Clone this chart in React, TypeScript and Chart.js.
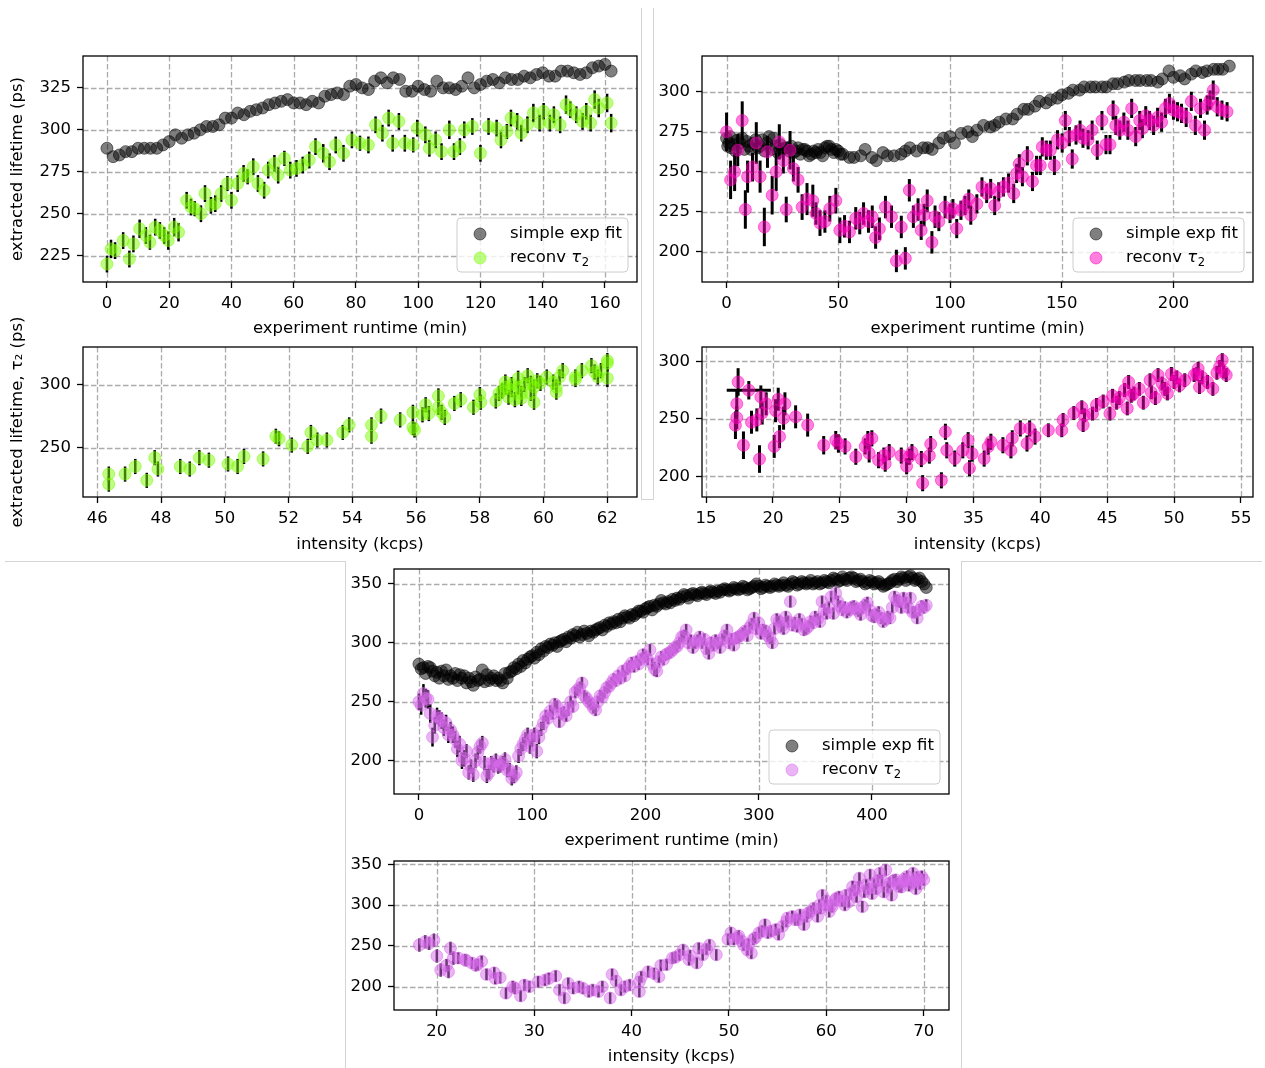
import React, { useEffect, useRef } from 'react';
import { Chart, registerables } from 'chart.js';

Chart.register(...registerables);

const FONT_FAMILY = '"DejaVu Sans", "Liberation Sans", sans-serif';
const FONT_SIZE = 16.5;
const PAD_T = 45;
const PAD_R = 20;

const GRAY = 'rgba(0,0,0,0.5)';
const GREEN = 'rgba(124,252,0,0.5)';
const PINK = 'rgba(255,0,190,0.5)';
const VIOLET = 'rgba(215,105,235,0.5)';
const GRID_COLOR = 'rgba(150,150,150,0.8)';

const LABEL_SIMPLE = 'simple exp fit';
const LABEL_RECONV = 'reconv τ₂';
const TITLE_RUNTIME = 'experiment runtime (min)';
const TITLE_INTENSITY = 'intensity (kcps)';
const TITLE_LIFETIME = 'extracted lifetime (ps)';
const TITLE_LIFETIME_T2 = 'extracted lifetime, τ₂ (ps)';

// ---------------- Panel 1 (green) ----------------
const p1RuntimeTicks = [0, 20, 40, 60, 80, 100, 120, 140, 160];
const p1LifetimeTicks = [225, 250, 275, 300, 325];
const p1IntensityTicks = [46, 48, 50, 52, 54, 56, 58, 60, 62];
const p1IntLifetimeTicks = [250, 300];

const p1SimpleX = [0, 2, 4, 6, 8, 10, 12, 14, 16, 18, 20, 22, 24, 26, 28, 30, 32, 34, 36, 38, 40, 42, 44, 46, 48, 50, 52, 54, 56, 58, 60, 62, 64, 66, 68, 70, 72, 74, 76, 78, 80, 82, 84, 86, 88, 90, 92, 94, 96, 98, 100, 102, 104, 106, 108, 110, 112, 114, 116, 118, 120, 122, 124, 126, 128, 130, 132, 134, 136, 138, 140, 142, 144, 146, 148, 150, 152, 154, 156, 158, 160, 162];
const p1SimpleY = [289, 284, 285, 287, 287, 289, 289, 289, 289, 291, 293, 297, 295, 297, 298, 300, 302, 302, 303, 307, 307, 310, 309, 311, 312, 313, 315, 316, 317, 318, 316, 316, 315, 317, 316, 320, 321, 322, 321, 326, 327, 325, 324, 329, 331, 328, 331, 330, 323, 323, 326, 324, 323, 329, 325, 325, 324, 326, 331, 325, 327, 329, 330, 328, 331, 330, 330, 332, 331, 333, 334, 332, 332, 335, 335, 334, 333, 334, 337, 338, 339, 335];

const p1ReconvX = [0, 1.3, 2.6, 5.2, 7.2, 8.5, 10.5, 12.5, 13.8, 15.5, 17, 18.4, 19.7, 21.6, 23, 25.6, 27, 28.2, 30.2, 31.5, 33.4, 34.8, 36.7, 38.7, 40, 42, 43.9, 45.2, 47, 48.5, 50.5, 51.8, 53.8, 55, 57, 58.9, 60.9, 62.9, 65, 67, 69.5, 71.5, 73.5, 76, 78.7, 81.3, 84, 86.3, 88.5, 90.5, 91.8, 93.8, 95.7, 98.4, 99.7, 102.3, 103.6, 105.6, 107.5, 110, 111.5, 113.4, 114.8, 117.4, 120, 122.6, 125.2, 126.6, 128.5, 129.8, 131.8, 133.1, 135.1, 137, 139, 140.3, 142.3, 143.6, 145.6, 147.5, 148.9, 150.8, 152.8, 154, 155.4, 156.7, 158, 160.7, 162];
const p1ReconvY = [220, 229, 228, 234, 223, 232, 241, 237, 233, 242, 240, 237, 234, 242, 239, 258, 254, 253, 250, 262, 255, 256, 262, 268, 258, 268, 274, 272, 278, 268, 264, 276, 280, 273, 283, 276, 277, 279, 282, 290, 286, 281, 291, 286, 294, 292, 291, 303, 298, 307, 292, 305, 292, 291, 301, 297, 289, 294, 287, 300, 287, 290, 300, 302, 286, 302, 301, 294, 299, 307, 305, 298, 303, 310, 304, 311, 304, 309, 303, 315, 312, 309, 305, 311, 304, 318, 313, 316, 304];
const p1ReconvErr = [5, 5.5, 5, 5, 5, 5, 5.5, 5, 4.5, 5, 5, 5, 5.5, 5.5, 5.5, 5, 5, 4.5, 5, 5, 5, 5, 5, 4.5, 5, 5, 5, 4.5, 5, 5, 5, 5, 5, 5, 4.5, 5, 5, 5, 5, 5, 5.5, 5, 5, 5, 5, 4.5, 5, 5, 5, 5, 5, 5, 5, 4.5, 5, 5, 5, 5, 5, 5.5, 5, 5, 5, 5, 5, 5, 5, 5, 4.5, 5, 5, 5, 5, 5.5, 5, 5, 5, 5, 5, 5.5, 5, 5, 5, 5, 5, 5.5, 5.5, 5.5, 5.5];

const p1IntX = [46.36, 46.36, 46.87, 47.19, 47.55, 47.8, 47.9, 48.6, 48.9, 49.2, 49.5, 50.1, 50.4, 50.6, 51.2, 51.6, 51.7, 52.1, 52.6, 52.7, 52.9, 53.2, 53.7, 53.9, 54.6, 54.6, 54.9, 55.5, 55.9, 55.9, 55.95, 56.2, 56.3, 56.4, 56.7, 56.7, 56.8, 56.9, 57.2, 57.4, 57.8, 58.0, 58.03, 58.5, 58.6, 58.8, 58.8, 58.9, 59.0, 59.1, 59.2, 59.2, 59.3, 59.4, 59.5, 59.6, 59.6, 59.7, 59.8, 60.1, 60.3, 60.4, 60.4, 60.5, 60.6, 61.0, 61.0, 61.2, 61.5, 61.6, 61.7, 61.8, 62.0, 62.0, 62.0, 59.0, 59.3, 59.7, 59.9, 58.7];
const p1IntY = [229, 221, 229, 235, 224, 242, 233, 235, 233, 242, 240, 237, 235, 243, 241, 259, 257, 252, 251, 262, 256, 256, 262, 268, 268, 259, 275, 272, 278, 266, 264, 276, 284, 277, 291, 282, 278, 274, 285, 288, 282, 292, 286, 287, 293, 298, 302, 290, 296, 288, 298, 305, 293, 300, 307, 301, 293, 286, 303, 306, 302, 294, 298, 306, 311, 306, 304, 311, 315, 310, 306, 311, 319, 317, 305, 300, 289, 298, 301, 295];
const p1IntErr = [6, 6, 6, 6, 6, 6, 6, 6, 6, 6, 6, 6, 6, 6, 6, 6, 6, 6, 6, 6, 6, 6, 6, 6, 6, 6, 6, 6, 6, 6, 6, 6, 6, 6, 6, 6, 6, 6, 6, 6, 6, 6, 6, 6, 6, 6, 6, 6, 6, 6, 6, 6, 6, 6, 6, 6, 6, 6, 6, 6, 6, 6, 6, 6, 6, 6, 6, 6, 6, 6, 6, 6, 6, 6, 7, 6, 6, 6, 6, 6];

// ---------------- Panel 2 (magenta) ----------------
const p2RuntimeTicks = [0, 50, 100, 150, 200];
const p2LifetimeTicks = [200, 225, 250, 275, 300];
const p2IntensityTicks = [15, 20, 25, 30, 35, 40, 45, 50, 55];
const p2IntLifetimeTicks = [200, 250, 300];

const p2SimpleX = [0, 1, 2, 3, 5, 6, 8, 10, 12, 14, 16, 17, 19, 20, 22, 25, 27, 30, 32, 35, 38, 40, 42, 45, 47, 50, 52, 55, 57, 60, 62, 65, 67, 70, 72, 75, 78, 80, 82, 85, 88, 90, 92, 95, 97, 100, 102, 105, 108, 110, 112, 115, 118, 120, 122, 125, 128, 130, 133, 135, 138, 140, 143, 145, 148, 150, 153, 155, 158, 160, 163, 165, 168, 170, 173, 175, 178, 180, 183, 185, 188, 190, 193, 195, 198, 200, 203, 205, 208, 210, 213, 215, 218, 220, 222, 225];
const p2SimpleY = [271, 268, 265, 267, 270, 268, 264, 266, 268, 265, 270, 263, 272, 264, 266, 264, 265, 262, 265, 264, 261, 262, 262, 266, 264, 263, 261, 259, 259, 260, 264, 259, 257, 262, 260, 260, 261, 263, 265, 263, 265, 265, 264, 268, 271, 272, 268, 274, 275, 272, 276, 279, 278, 279, 281, 283, 283, 286, 289, 289, 291, 294, 293, 295, 296, 298, 299, 301, 301, 303, 303, 303, 303, 303, 305, 305, 306, 307, 307, 307, 307, 307, 306, 308, 313, 309, 310, 308, 311, 313, 312, 313, 314, 314, 314, 316];
const p2SimpleX2 = [0.5, 1.5, 4, 7, 9, 11, 13, 15, 18, 21, 23, 24, 26, 28, 29, 31, 33, 34, 36, 37, 39, 41, 43, 44, 46, 48, 49, 51];
const p2SimpleY2 = [266, 272, 263, 271, 269, 264, 270, 266, 268, 271, 262, 267, 265, 263, 266, 263, 261, 264, 263, 260, 263, 264, 260, 265, 266, 262, 264, 261];

const p2ReconvX = [0, 1.8, 3.6, 5, 7, 8.4, 9.4, 11.6, 13.3, 15, 16.9, 18.3, 20.4, 22.2, 23.6, 25.4, 26.7, 28.4, 29.9, 32, 33.8, 36, 38.6, 40, 41.8, 44, 46.2, 48.9, 50.7, 52.8, 55, 57.8, 59.6, 61.3, 63.5, 65.2, 66.7, 68.4, 71.1, 73.8, 76, 78.2, 80, 81.8, 83.6, 85.7, 87.1, 88.4, 89.8, 91.9, 93.3, 95, 97.8, 100, 101.3, 103, 104.9, 106.7, 108.4, 109.3, 112, 114.3, 116.4, 118.2, 120, 121.8, 123.9, 126.2, 128.5, 129.8, 131, 132.4, 134.6, 136.9, 138.7, 140.4, 141.3, 143.1, 144.9, 146.7, 148.1, 150.2, 151.6, 153.4, 154.7, 156.4, 158.2, 159.5, 161.8, 163.6, 165.9, 168, 169.8, 171.6, 173, 174.2, 176, 177.8, 179.6, 181.3, 183.1, 184.9, 186.1, 187.6, 189.3, 191.1, 192.9, 194.7, 196.4, 198.2, 200, 201.8, 203.6, 205.7, 208, 209.8, 212.1, 213.9, 215.1, 216.4, 217.8, 219.6, 221.7, 224];
const p2ReconvY = [275, 245, 250, 263.5, 282, 226.5, 247, 253, 268, 247, 215.6, 262.5, 235.4, 250, 268.7, 257, 226.5, 263.5, 252, 245, 228, 233, 232, 224, 218, 219, 227, 232, 213.5, 216, 212.5, 221, 218, 224, 219, 222, 209, 214.5, 228, 222, 194.4, 215.6, 196, 238.5, 222, 226.5, 213.5, 223, 232, 206, 222, 219, 228, 224, 227, 214.6, 226, 229, 233, 223, 230, 240.6, 236.5, 239.6, 229, 237.5, 240.6, 243, 236.5, 249, 255, 247, 260, 244, 254, 254, 265.6, 263.5, 263.5, 254, 270, 268, 282, 272, 258, 273, 276, 271, 270, 276, 263.5, 282, 267, 267, 288.5, 279, 276, 281, 276, 289.6, 272, 282, 277, 285, 282, 279, 284, 281, 289.6, 292.7, 288.5, 287.5, 286.5, 284, 294, 279, 289.6, 276, 291.7, 294.8, 301, 290.6, 288.5, 287.5];
const p2ReconvErr = [12, 12, 12, 10, 12, 12, 10, 9, 13, 10, 12, 10, 12, 12, 11, 8, 8, 12, 8, 8, 8, 10, 10, 7, 8, 7, 8, 8, 8, 7, 7, 7, 7, 7, 7, 7, 7, 7, 7, 7, 7, 7, 7, 7, 7, 7, 6, 7, 7, 7, 7, 6, 7, 6, 6, 6, 6, 6, 6, 6, 6, 6, 6, 6, 6, 6, 6, 6, 6, 6, 6, 6, 6, 6, 6, 6, 6, 6, 6, 6, 6, 6, 6, 6, 6, 6, 6, 6, 6, 6, 6, 6, 6, 6, 6, 6, 6, 6, 6, 6, 6, 6, 6, 6, 6, 6, 6, 6, 6, 6, 6, 6, 6, 6, 6, 6, 6, 6, 6, 6, 6, 6, 6, 6];

const p2IntX = [17.2, 17.3, 17.3, 17.4, 17.8, 18.2, 18.4, 18.8, 19.0, 19.1, 19.2, 19.5, 20.1, 20.2, 20.4, 20.5, 20.8, 20.9, 21.7, 22.6, 23.8, 24.7, 24.9, 25.4, 26.2, 26.9, 27.1, 27.2, 27.4, 27.9, 28.3, 28.4, 28.7, 29.6, 30.0, 30.2, 30.4, 31.1, 31.2, 31.7, 31.8, 32.6, 32.9, 33.0, 33.6, 34.2, 34.6, 34.7, 34.9, 35.8, 36.1, 36.3, 37.2, 37.8, 37.9, 38.5, 39.0, 39.2, 39.6, 40.6, 41.6, 41.7, 42.5, 43.1, 43.2, 43.3, 43.9, 44.7, 45.2, 45.4, 45.7, 46.3, 46.5, 46.6, 46.8, 47.4, 47.7, 48.2, 48.3, 48.6, 48.8, 49.1, 49.5, 49.8, 50.0, 50.4, 50.8, 51.7, 51.8, 51.9, 52.1, 52.9, 53.4, 53.6, 53.7, 53.9, 47.0, 49.3, 50.2, 51.5, 52.5, 53.2, 45.9, 44.2];
const p2IntY = [244.4, 251, 263, 282, 227, 274.8, 247, 249, 215, 269, 255, 263, 226, 257, 267, 234.5, 250.5, 263, 251.7, 244.5, 227, 231.4, 228.5, 226, 217, 226, 231.4, 220, 233, 214, 218, 211, 221, 218, 208.7, 217, 221, 215, 194, 218, 228, 196.5, 238.7, 222.6, 215.4, 222.6, 231.4, 207, 219.7, 215.4, 225.7, 230, 227, 222.6, 233, 241.6, 228.5, 241.6, 234.5, 240, 240, 249, 255, 260, 244.5, 253, 254.5, 265, 254.5, 270, 264, 275, 259, 282, 270, 276, 264, 283.5, 273, 268, 288, 280.6, 272, 289, 282, 279, 283.5, 289, 293.6, 277.6, 286, 276, 295, 301, 291, 288, 272, 276, 286, 288, 282, 290, 268, 262];
const p2IntErr = [12, 10, 12, 12, 12, 8, 10, 10, 12, 10, 10, 10, 10, 10, 10, 10, 10, 10, 10, 10, 8, 8, 8, 7, 7, 7, 8, 8, 7, 7, 7, 7, 7, 7, 7, 7, 7, 7, 7, 7, 7, 7, 7, 7, 7, 7, 7, 7, 7, 7, 7, 7, 7, 7, 7, 7, 7, 7, 7, 6, 6, 6, 6, 6, 6, 6, 6, 6, 6, 6, 6, 6, 6, 6, 6, 6, 6, 6, 6, 6, 6, 6, 6, 6, 6, 6, 6, 6, 6, 6, 6, 6, 6, 6, 6, 6, 6, 6, 6, 6, 6, 6, 6, 6];
const p2IntXErr: Record<number, number> = { 5: 1.65 };

// ---------------- Panel 3 (violet) ----------------
const p3RuntimeTicks = [0, 100, 200, 300, 400];
const p3LifetimeTicks = [200, 250, 300, 350];
const p3IntensityTicks = [20, 30, 40, 50, 60, 70];
const p3IntLifetimeTicks = [200, 250, 300, 350];

const p3RuntimeX = [0, 4, 8, 12, 16, 20, 24, 28, 32, 36, 40, 44, 48, 52, 56, 60, 64, 68, 72, 76, 80, 84, 88, 92, 96, 100, 104, 108, 112, 116, 120, 124, 128, 132, 136, 140, 144, 148, 152, 156, 160, 164, 168, 172, 176, 180, 184, 188, 192, 196, 200, 204, 208, 212, 216, 220, 224, 228, 232, 236, 240, 244, 248, 252, 256, 260, 264, 268, 272, 276, 280, 284, 288, 292, 296, 300, 304, 308, 312, 316, 320, 324, 328, 332, 336, 340, 344, 348, 352, 356, 360, 364, 368, 372, 376, 380, 384, 388, 392, 396, 400, 404, 408, 412, 416, 420, 424, 428, 432, 436, 440, 444, 448];
const p3SimpleY = [282, 279, 280, 276, 275, 276, 277, 272, 274, 273, 272, 270, 264, 268, 277, 273, 270, 268, 268, 274, 275, 279, 282, 285, 286, 289, 292, 295, 297, 299, 300, 301, 303, 305, 307, 309, 307, 308, 310, 311, 313, 315, 317, 318, 320, 321, 322, 324, 325, 327, 329, 331, 332, 333, 334, 335, 337, 338, 339, 340, 341, 341, 342, 342, 343, 343, 344, 345, 345, 345, 346, 346, 347, 346, 348, 348, 347, 348, 348, 349, 349, 349, 350, 351, 350, 351, 351, 350, 352, 351, 352, 353, 354, 353, 354, 355, 355, 353, 352, 351, 352, 351, 350, 349, 351, 354, 354, 355, 356, 355, 354, 352, 347];
const p3ReconvY = [250, 257, 252, 220, 238, 234, 232, 226, 218, 214, 202, 190, 188, 207, 215, 187, 198, 200, 196, 201, 192, 187, 204, 214, 222, 218, 208, 227, 238, 242, 248, 233, 241, 244, 246, 260, 266, 253, 248, 243, 255, 258, 263, 269, 272, 276, 278, 283, 284, 286, 288, 294, 278, 284, 286, 291, 294, 297, 305, 311, 302, 300, 305, 303, 291, 298, 300, 303, 311, 303, 304, 306, 310, 313, 321, 317, 311, 306, 300, 320, 314, 322, 335, 317, 320, 311, 314, 317, 320, 335, 325, 339, 342, 331, 330, 328, 331, 327, 330, 334, 323, 324, 321, 320, 321, 339, 335, 338, 330, 326, 321, 331, 332];
const p3ReconvErr = [7, 8, 8, 8, 7, 7, 7, 7, 7, 7, 7, 6, 6, 6, 6, 6, 6, 6, 6, 6, 6, 6, 6, 6, 6, 6, 6, 6, 5, 5, 5, 5, 5, 6, 5, 5, 5, 5, 5, 5, 5, 5, 5, 5, 5, 5, 5, 5, 5, 5, 5, 5, 6, 5, 5, 5, 5, 5, 5, 5, 5, 5, 5, 5, 5, 5, 5, 5, 5, 5, 5, 5, 5, 5, 5, 5, 5, 5, 5, 5, 5, 5, 5, 5, 5, 5, 5, 5, 5, 5, 5, 5, 5, 5, 5, 5, 5, 5, 5, 5, 5, 5, 5, 5, 5, 5, 5, 5, 5, 5, 5, 5, 5];

const p3RuntimeX2 = [2, 6, 10, 14, 18, 22, 26, 30, 34, 38, 42, 46, 50, 54, 58, 62, 66, 70, 74, 78, 82, 86, 90, 94, 98, 102, 106, 110, 114, 118, 122, 126, 130, 134, 138, 142, 146, 150, 154, 158, 162, 166, 170, 174, 178, 182, 186, 190, 194, 198, 202, 206, 210, 214, 218, 222, 226, 230, 234, 238, 242, 246, 250, 254, 258, 262, 266, 270, 274, 278, 282, 286, 290, 294, 298, 302, 306, 310, 314, 318, 322, 326, 330, 334, 338, 342, 346, 350, 354, 358, 362, 366, 370, 374, 378, 382, 386, 390, 394, 398, 402, 406, 410, 414, 418, 422, 426, 430, 434, 438, 442, 446];
const p3SimpleY2 = [278, 274, 279, 272, 270, 272, 269, 270, 268, 270, 266, 267, 271, 269, 267, 268, 272, 270, 266, 270, 276, 278, 280, 283, 288, 287, 290, 293, 296, 298, 297, 302, 301, 304, 306, 305, 310, 306, 309, 312, 311, 314, 316, 317, 318, 323, 321, 323, 327, 326, 330, 328, 331, 336, 333, 334, 336, 337, 341, 338, 342, 340, 343, 341, 344, 342, 343, 346, 344, 347, 345, 348, 345, 347, 350, 346, 349, 347, 350, 348, 351, 348, 352, 349, 352, 350, 353, 351, 350, 353, 351, 355, 352, 356, 353, 356, 352, 354, 350, 353, 350, 352, 348, 350, 353, 352, 356, 353, 357, 353, 355, 350];
const p3ReconvY2 = [247, 253, 240, 230, 236, 228, 222, 222, 210, 200, 208, 195, 200, 212, 198, 190, 196, 195, 198, 192, 185, 190, 210, 218, 212, 222, 220, 232, 236, 240, 246, 240, 238, 250, 258, 262, 255, 250, 245, 250, 254, 262, 266, 268, 270, 272, 280, 280, 282, 290, 286, 282, 276, 288, 290, 292, 296, 300, 306, 300, 296, 302, 300, 295, 300, 302, 296, 306, 300, 298, 305, 308, 306, 316, 312, 308, 310, 304, 312, 318, 312, 318, 315, 314, 316, 312, 318, 322, 318, 328, 330, 325, 335, 328, 326, 330, 329, 324, 332, 328, 322, 326, 318, 322, 330, 336, 330, 334, 338, 326, 328, 330];
const p3ReconvErr2 = [8, 8, 8, 7, 7, 7, 7, 7, 7, 7, 6, 6, 6, 6, 6, 6, 6, 6, 6, 6, 6, 6, 6, 6, 6, 6, 6, 6, 5, 5, 5, 5, 5, 5, 5, 5, 5, 5, 5, 5, 5, 5, 5, 5, 5, 5, 5, 5, 5, 5, 5, 5, 5, 5, 5, 5, 5, 5, 5, 5, 5, 5, 5, 5, 5, 5, 5, 5, 5, 5, 5, 5, 5, 5, 5, 5, 5, 5, 5, 5, 5, 5, 5, 5, 5, 5, 5, 5, 5, 5, 5, 5, 5, 5, 5, 5, 5, 5, 5, 5, 5, 5, 5, 5, 5, 5, 5, 5, 5, 5, 5, 5];

const p3IntX = [18.2, 18.8, 19.7, 20.0, 20.4, 21.2, 21.4, 21.7, 22.2, 22.9, 23.6, 24.2, 24.6, 25.1, 25.9, 26.5, 27.1, 27.8, 28.6, 29.5, 30.4, 31.1, 32.2, 32.6, 33.1, 34.0, 34.6, 35.6, 36.6, 37.8, 38.0, 38.4, 38.9, 39.8, 40.8, 40.8, 41.7, 42.3, 42.8, 43.6, 44.2, 44.9, 45.3, 45.9, 46.7, 46.9, 47.3, 48.0, 48.7, 49.9, 50.2, 50.9, 51.5, 51.9, 52.3, 52.7, 53.1, 53.7, 54.3, 55.1, 55.9, 56.5, 57.1, 57.7, 58.1, 58.7, 59.1, 59.6, 59.9, 60.3, 60.9, 61.3, 61.9, 62.3, 62.7, 63.1, 63.4, 63.7, 64.1, 64.5, 64.7, 65.1, 65.5, 65.9, 66.1, 66.5, 66.7, 67.1, 67.5, 67.9, 68.3, 68.7, 68.9, 69.2, 69.5, 69.8, 56.0, 57.3, 58.4, 59.3, 60.0, 60.6, 61.6, 62.0, 62.9, 63.9, 64.9, 65.7, 66.3, 67.3, 68.0, 68.5, 69.0, 69.6, 70.0, 52.0, 51.0, 53.4, 54.8];
const p3IntY = [251, 255, 257, 237.6, 220.4, 218.4, 247, 235, 235, 233, 229, 227, 231, 215, 217, 211, 192, 200, 188.6, 200, 206, 208, 213, 196, 186, 198, 200, 194, 194, 186, 215, 207, 196, 202, 194, 206, 218.4, 216, 212, 227, 235, 239, 245, 233, 229, 247, 239, 251, 239, 258, 266, 260, 251, 245, 241, 260, 266, 276, 268, 264, 280, 286, 282, 276, 290, 296, 286, 312, 300, 292, 306, 310, 300, 304, 322.6, 310, 333, 298, 325, 337, 314, 320, 339, 316, 343, 327, 312, 331, 322.6, 329, 335, 327, 339, 320, 331, 335, 284, 288, 292, 300, 305, 298, 305, 312, 318, 316, 326, 330, 322, 326, 332, 324, 329, 326, 331, 252, 262, 268, 270];
const p3IntErr = [8, 8, 8, 8, 8, 8, 8, 8, 7, 7, 7, 7, 7, 7, 7, 7, 7, 7, 7, 7, 7, 7, 7, 7, 7, 7, 7, 7, 7, 7, 7, 7, 7, 7, 7, 7, 7, 7, 7, 7, 7, 7, 7, 7, 7, 7, 7, 7, 7, 7, 7, 7, 7, 7, 7, 7, 7, 7, 7, 7, 7, 7, 7, 7, 7, 7, 7, 7, 7, 7, 7, 7, 7, 7, 7, 7, 7, 7, 7, 7, 7, 7, 7, 7, 7, 7, 7, 7, 7, 7, 7, 7, 7, 7, 7, 7, 7, 7, 7, 7, 7, 7, 7, 7, 7, 7, 7, 7, 7, 7, 7, 7, 7, 7, 7, 7, 7, 7, 7];
const p3IntX2 = [19.2, 21.0, 23.0, 24.0, 26.0, 28.0, 29.0, 31.5, 33.5, 35.0, 36.0, 37.0, 39.3, 41.0, 43.0, 44.5, 46.0, 47.7, 50.5, 51.3, 52.5, 54.0, 55.5, 56.8, 58.0, 59.4, 60.5, 61.0, 62.5, 63.3, 64.3, 65.3, 66.9, 67.7, 68.2, 69.3];
const p3IntY2 = [253, 226, 232, 226, 210, 198, 202, 210, 204, 198, 196, 200, 200, 212, 226, 236, 238, 246, 258, 256, 258, 266, 274, 282, 286, 296, 300, 308, 314, 322, 320, 330, 330, 322, 330, 334];
const p3IntErr2 = [8, 8, 7, 7, 7, 7, 7, 7, 7, 7, 7, 7, 7, 7, 7, 7, 7, 7, 7, 7, 7, 7, 7, 7, 7, 7, 7, 7, 7, 7, 7, 7, 7, 7, 7, 7];

// ---------------- layout / rendering ----------------
type Box = { l: number; t: number; r: number; b: number };
type Series = {
  label: string;
  x: number[];
  y: number[];
  color: string;
  order: number;
  err?: number[];
  errX?: Record<number, number>;
};
type Panel = {
  id: string;
  box: Box;
  xRange: [number, number];
  yRange: [number, number];
  xTicks: number[];
  yTicks: number[];
  xTitle: string;
  xTitleY: number;
  yTitle?: string;
  yAxisW: number;
  series: Series[];
  legend: boolean;
  errWidth: number;
};

const PANELS: Panel[] = [
  {
    id: 'p1main',
    box: { l: 83, t: 56, r: 637, b: 282 },
    xRange: [-7.7, 170.3],
    yRange: [209.3, 344],
    xTicks: p1RuntimeTicks,
    yTicks: p1LifetimeTicks,
    xTitle: TITLE_RUNTIME,
    xTitleY: 327,
    yTitle: TITLE_LIFETIME,
    yAxisW: 75,
    legend: true,
    errWidth: 2.5,
    series: [
      { label: LABEL_SIMPLE, x: p1SimpleX, y: p1SimpleY, color: GRAY, order: 2 },
      { label: LABEL_RECONV, x: p1ReconvX, y: p1ReconvY, color: GREEN, order: 1, err: p1ReconvErr },
    ],
  },
  {
    id: 'p1int',
    box: { l: 83, t: 347, r: 637, b: 497 },
    xRange: [45.55, 62.93],
    yRange: [210.8, 329.8],
    xTicks: p1IntensityTicks,
    yTicks: p1IntLifetimeTicks,
    xTitle: TITLE_INTENSITY,
    xTitleY: 543,
    yTitle: TITLE_LIFETIME_T2,
    yAxisW: 75,
    legend: false,
    errWidth: 2.5,
    series: [{ label: LABEL_RECONV, x: p1IntX, y: p1IntY, color: GREEN, order: 1, err: p1IntErr }],
  },
  {
    id: 'p2main',
    box: { l: 702, t: 56, r: 1253, b: 282 },
    xRange: [-11, 235.6],
    yRange: [181.25, 322.3],
    xTicks: p2RuntimeTicks,
    yTicks: p2LifetimeTicks,
    xTitle: TITLE_RUNTIME,
    xTitleY: 327,
    yAxisW: 60,
    legend: true,
    errWidth: 3,
    series: [
      { label: LABEL_SIMPLE, x: [...p2SimpleX, ...p2SimpleX2], y: [...p2SimpleY, ...p2SimpleY2], color: GRAY, order: 2 },
      { label: LABEL_RECONV, x: p2ReconvX, y: p2ReconvY, color: PINK, order: 1, err: p2ReconvErr },
    ],
  },
  {
    id: 'p2int',
    box: { l: 702, t: 347, r: 1253, b: 497 },
    xRange: [14.7, 55.9],
    yRange: [182, 312.4],
    xTicks: p2IntensityTicks,
    yTicks: p2IntLifetimeTicks,
    xTitle: TITLE_INTENSITY,
    xTitleY: 543,
    yAxisW: 60,
    legend: false,
    errWidth: 3,
    series: [{ label: LABEL_RECONV, x: p2IntX, y: p2IntY, color: PINK, order: 1, err: p2IntErr, errX: p2IntXErr }],
  },
  {
    id: 'p3main',
    box: { l: 394, t: 569, r: 949, b: 794 },
    xRange: [-22, 468.1],
    yRange: [171.7, 362.7],
    xTicks: p3RuntimeTicks,
    yTicks: p3LifetimeTicks,
    xTitle: TITLE_RUNTIME,
    xTitleY: 839,
    yAxisW: 60,
    legend: true,
    errWidth: 2.5,
    series: [
      { label: LABEL_SIMPLE, x: [...p3RuntimeX, ...p3RuntimeX2], y: [...p3SimpleY, ...p3SimpleY2], color: GRAY, order: 2 },
      {
        label: LABEL_RECONV,
        x: [...p3RuntimeX, ...p3RuntimeX2],
        y: [...p3ReconvY, ...p3ReconvY2],
        color: VIOLET,
        order: 1,
        err: [...p3ReconvErr, ...p3ReconvErr2],
      },
    ],
  },
  {
    id: 'p3int',
    box: { l: 394, t: 861, r: 949, b: 1010 },
    xRange: [15.6, 72.6],
    yRange: [171.4, 354],
    xTicks: p3IntensityTicks,
    yTicks: p3IntLifetimeTicks,
    xTitle: TITLE_INTENSITY,
    xTitleY: 1055,
    yAxisW: 60,
    legend: false,
    errWidth: 2.5,
    series: [
      {
        label: LABEL_RECONV,
        x: [...p3IntX, ...p3IntX2],
        y: [...p3IntY, ...p3IntY2],
        color: VIOLET,
        order: 1,
        err: [...p3IntErr, ...p3IntErr2],
      },
    ],
  },
];

function geometry(p: Panel) {
  const cl = p.box.l - p.yAxisW;
  const ct = p.box.t - PAD_T;
  const cw = p.box.r - cl + PAD_R;
  const xAxisH = Math.round(p.xTitleY - p.box.b + FONT_SIZE * 0.6 + 2);
  const ch = PAD_T + (p.box.b - p.box.t) + xAxisH;
  return { cl, ct, cw, ch, xAxisH };
}

function drawLegendLabel(ctx: CanvasRenderingContext2D, text: string, x: number, y: number) {
  ctx.fillStyle = '#000';
  ctx.textBaseline = 'middle';
  ctx.textAlign = 'left';
  const base = `${FONT_SIZE}px ${FONT_FAMILY}`;
  const idx = text.indexOf('τ₂');
  if (idx < 0) {
    ctx.font = base;
    ctx.fillText(text, x, y);
    return;
  }
  const pre = text.slice(0, idx);
  ctx.font = base;
  ctx.fillText(pre, x, y);
  let cx = x + ctx.measureText(pre).width;
  ctx.font = `italic ${FONT_SIZE}px ${FONT_FAMILY}`;
  ctx.fillText('τ', cx, y);
  cx += ctx.measureText('τ').width + 0.5;
  ctx.font = `${FONT_SIZE * 0.7}px ${FONT_FAMILY}`;
  ctx.fillText('2', cx, y + 4.5);
}

function makeDecorPlugin(p: Panel) {
  return {
    id: 'decor_' + p.id,
    beforeDatasetsDraw(chart: any) {
      const { ctx, chartArea: a, scales } = chart;
      const xs = scales.x;
      const ys = scales.y;
      ctx.save();
      ctx.beginPath();
      ctx.rect(a.left, a.top, a.right - a.left, a.bottom - a.top);
      ctx.clip();
      ctx.strokeStyle = GRID_COLOR;
      ctx.lineWidth = 1.3;
      ctx.setLineDash([5.5, 2.5]);
      p.xTicks.forEach((v) => {
        const px = Math.round(xs.getPixelForValue(v)) + 0.5;
        ctx.beginPath();
        ctx.moveTo(px, a.top);
        ctx.lineTo(px, a.bottom);
        ctx.stroke();
      });
      p.yTicks.forEach((v) => {
        const py = Math.round(ys.getPixelForValue(v)) + 0.5;
        ctx.beginPath();
        ctx.moveTo(a.left, py);
        ctx.lineTo(a.right, py);
        ctx.stroke();
      });
      ctx.setLineDash([]);
      ctx.strokeStyle = '#000';
      ctx.lineWidth = p.errWidth;
      chart.data.datasets.forEach((ds: any) => {
        const err: number[] | undefined = ds.errY;
        const errX: Record<number, number> | undefined = ds.errX;
        if (!err && !errX) return;
        ds.data.forEach((pt: { x: number; y: number }, j: number) => {
          const px = xs.getPixelForValue(pt.x);
          const py = ys.getPixelForValue(pt.y);
          const e = err ? err[j] ?? 0 : 0;
          if (e > 0) {
            ctx.beginPath();
            ctx.moveTo(px, ys.getPixelForValue(pt.y - e));
            ctx.lineTo(px, ys.getPixelForValue(pt.y + e));
            ctx.stroke();
          }
          const ex = errX ? errX[j] : undefined;
          if (ex) {
            ctx.beginPath();
            ctx.moveTo(xs.getPixelForValue(pt.x - ex), py);
            ctx.lineTo(xs.getPixelForValue(pt.x + ex), py);
            ctx.stroke();
          }
        });
      });
      ctx.restore();
    },
    afterDatasetsDraw(chart: any) {
      const { ctx, chartArea: a } = chart;
      ctx.save();
      ctx.strokeStyle = '#000';
      ctx.lineWidth = 1.3;
      ctx.strokeRect(a.left, a.top, a.right - a.left, a.bottom - a.top);
      if (p.legend) {
        const w = 171;
        const h = 54;
        const x0 = a.right - 9 - w;
        const y0 = a.bottom - 10 - h;
        ctx.beginPath();
        (ctx as any).roundRect(x0, y0, w, h, 4);
        ctx.fillStyle = 'rgba(255,255,255,0.8)';
        ctx.fill();
        ctx.strokeStyle = '#cccccc';
        ctx.lineWidth = 1;
        ctx.stroke();
        const items = chart.data.datasets.slice().sort((d1: any, d2: any) => d2.order - d1.order);
        items.forEach((ds: any, i: number) => {
          const cy = y0 + 16 + 24 * i;
          ctx.beginPath();
          ctx.arc(x0 + 23, cy, 6, 0, Math.PI * 2);
          ctx.fillStyle = ds.backgroundColor;
          ctx.fill();
          ctx.strokeStyle = ds.borderColor;
          ctx.lineWidth = 1;
          ctx.stroke();
          drawLegendLabel(ctx, ds.label, x0 + 53, cy);
        });
      }
      ctx.restore();
    },
  };
}

function makeConfig(p: Panel, g: ReturnType<typeof geometry>): any {
  const font = { family: FONT_FAMILY, size: FONT_SIZE, lineHeight: 1.2 };
  const datasets = p.series.map((s) => ({
    label: s.label,
    data: s.x.map((xv, i) => ({ x: xv, y: s.y[i] })),
    backgroundColor: s.color,
    borderColor: s.color,
    pointRadius: 6,
    pointHoverRadius: 6,
    pointBorderWidth: 1,
    showLine: false,
    order: s.order,
    errY: s.err,
    errX: s.errX,
  }));
  const gridOpts = {
    display: true,
    drawOnChartArea: false,
    drawTicks: true,
    tickLength: 6,
    tickColor: '#000',
    tickWidth: 1.3,
  };
  return {
    type: 'scatter',
    data: { datasets },
    options: {
      animation: false,
      responsive: false,
      maintainAspectRatio: false,
      events: [],
      layout: { padding: { left: 0, top: PAD_T, right: PAD_R, bottom: 0 } },
      plugins: {
        legend: { display: false },
        tooltip: { enabled: false },
        title: { display: false },
      },
      scales: {
        x: {
          type: 'linear',
          position: 'bottom',
          min: p.xRange[0],
          max: p.xRange[1],
          afterBuildTicks: (s: any) => {
            s.ticks = p.xTicks.map((v) => ({ value: v }));
          },
          afterFit: (s: any) => {
            s.height = g.xAxisH;
          },
          ticks: {
            color: '#000',
            font,
            padding: 6,
            autoSkip: false,
            maxRotation: 0,
            callback: (v: number) => String(v),
          },
          grid: gridOpts,
          border: { display: false },
          title: { display: true, text: p.xTitle, color: '#000', font, padding: 0 },
        },
        y: {
          type: 'linear',
          position: 'left',
          min: p.yRange[0],
          max: p.yRange[1],
          afterBuildTicks: (s: any) => {
            s.ticks = p.yTicks.map((v) => ({ value: v }));
          },
          afterFit: (s: any) => {
            s.width = p.yAxisW;
          },
          ticks: {
            color: '#000',
            font,
            padding: 6,
            autoSkip: false,
            callback: (v: number) => String(v),
          },
          grid: gridOpts,
          border: { display: false },
          title: p.yTitle
            ? { display: true, text: p.yTitle, color: '#000', font, padding: 0 }
            : { display: false },
        },
      },
    },
    plugins: [makeDecorPlugin(p)],
  };
}

function PanelChart({ p }: { p: Panel }) {
  const ref = useRef<HTMLCanvasElement | null>(null);
  const g = geometry(p);
  useEffect(() => {
    if (!ref.current) return;
    const chart = new Chart(ref.current, makeConfig(p, g));
    return () => chart.destroy();
  }, []);
  return (
    <canvas
      ref={ref}
      width={g.cw}
      height={g.ch}
      style={{ position: 'absolute', left: g.cl, top: g.ct, width: g.cw, height: g.ch }}
    />
  );
}

export default function App() {
  const sep = '1px solid #d4d4d4';
  return (
    <div
      style={{
        position: 'absolute',
        left: 0,
        top: 0,
        width: 1265,
        height: 1068,
        background: '#fff',
        overflow: 'hidden',
      }}
    >
      <div style={{ position: 'absolute', left: 641, top: 8, width: 11, height: 491, borderLeft: sep, borderRight: sep, borderBottom: sep }} />
      <div style={{ position: 'absolute', left: 5, top: 561, width: 340, height: 520, borderTop: sep, borderRight: sep }} />
      <div style={{ position: 'absolute', left: 961, top: 561, width: 300, height: 520, borderTop: sep, borderLeft: sep }} />
      {PANELS.map((p) => (
        <PanelChart key={p.id} p={p} />
      ))}
    </div>
  );
}
